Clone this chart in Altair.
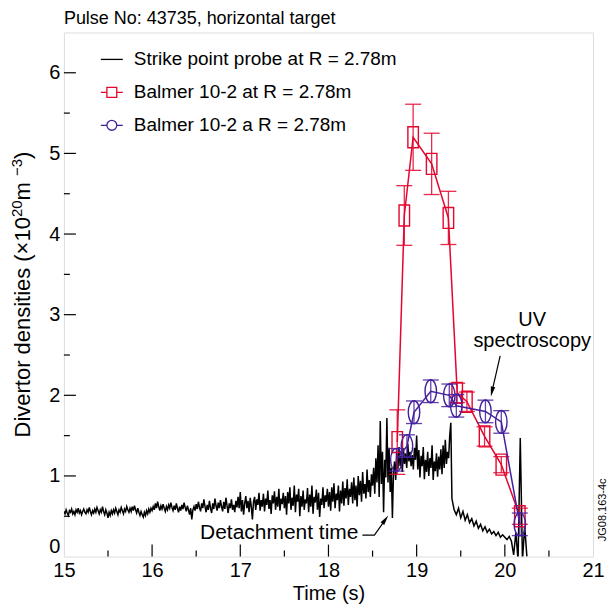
import altair as alt
import pandas as pd

FONT = "Liberation Sans"
RED = "#e3062e"
PURPLE = "#44209c"

# ---------------- data ----------------
# Strike point probe trace: fine part sampled every 0.0125 s from 15.0 s
probe_fine_start = 15.0
probe_fine_step = 0.0125
probe_fine_values = [
    # 15.00 - 15.2375
    0.56, 0.53, 0.58, 0.54, 0.51, 0.57, 0.55, 0.59, 0.53, 0.56, 0.52, 0.58, 0.55, 0.60, 0.54, 0.57, 0.52, 0.56, 0.59, 0.55,
    # 15.25 - 15.4875
    0.53, 0.58, 0.55, 0.61, 0.56, 0.52, 0.57, 0.54, 0.59, 0.55, 0.61, 0.57, 0.53, 0.58, 0.55, 0.62, 0.56, 0.52, 0.58, 0.54,
    # 15.50 - 15.7375
    0.48, 0.55, 0.51, 0.57, 0.53, 0.58, 0.54, 0.60, 0.56, 0.52, 0.58, 0.55, 0.61, 0.57, 0.53, 0.59, 0.56, 0.62, 0.58, 0.55,
    # 15.75 - 15.9875
    0.60, 0.56, 0.62, 0.57, 0.63, 0.58, 0.54, 0.60, 0.55, 0.51, 0.56, 0.52, 0.49, 0.55, 0.51, 0.57, 0.53, 0.59, 0.55, 0.60,
    # 16.00 - 16.2375
    0.57, 0.62, 0.58, 0.66, 0.60, 0.68, 0.62, 0.57, 0.63, 0.59, 0.65, 0.60, 0.56, 0.62, 0.58, 0.64, 0.60, 0.67, 0.61, 0.57,
    # 16.25 - 16.4875
    0.63, 0.58, 0.66, 0.60, 0.55, 0.62, 0.57, 0.64, 0.59, 0.67, 0.61, 0.56, 0.63, 0.58, 0.52, 0.60, 0.46, 0.58, 0.62, 0.57,
    # 16.50 - 16.7375
    0.65, 0.59, 0.68, 0.61, 0.56, 0.66, 0.60, 0.71, 0.62, 0.55, 0.64, 0.58, 0.69, 0.60, 0.54, 0.66, 0.59, 0.72, 0.63, 0.57,
    # 16.75 - 16.9875
    0.67, 0.60, 0.70, 0.62, 0.56, 0.68, 0.59, 0.73, 0.63, 0.54, 0.66, 0.60, 0.71, 0.58, 0.64, 0.55, 0.69, 0.61, 0.74, 0.60,
    # 17.00 - 17.2375
    0.80, 0.56, 0.70, 0.52, 0.66, 0.75, 0.60, 0.69, 0.55, 0.73, 0.62, 0.46, 0.68, 0.74, 0.58, 0.71, 0.64, 0.79, 0.57, 0.70,
    # 17.25 - 17.4875
    0.62, 0.78, 0.56, 0.72, 0.64, 0.82, 0.59, 0.70, 0.53, 0.76, 0.66, 0.81, 0.58, 0.74, 0.62, 0.84, 0.57, 0.72, 0.65, 0.79,
    # 17.50 - 17.7375
    0.60, 0.75, 0.52, 0.80, 0.66, 0.86, 0.58, 0.73, 0.63, 0.88, 0.55, 0.77, 0.68, 0.84, 0.50, 0.75, 0.62, 0.82, 0.58, 0.71,
    # 17.75 - 17.9875
    0.66, 0.85, 0.55, 0.77, 0.62, 0.88, 0.53, 0.74, 0.67, 0.83, 0.58, 0.79, 0.49, 0.72, 0.64, 0.86, 0.60, 0.76, 0.68, 0.84,
    # 18.00 - 18.2375
    0.62, 0.80, 0.57, 0.86, 0.68, 0.91, 0.60, 0.78, 0.70, 0.88, 0.56, 0.82, 0.66, 0.93, 0.63, 0.85, 0.72, 0.96, 0.64, 0.84,
    # 18.25 - 18.4875
    0.74, 0.92, 0.66, 0.98, 0.70, 0.88, 0.62, 1.00, 0.76, 0.94, 0.68, 1.05, 0.78, 0.90, 0.72, 1.08, 0.80, 0.95, 0.74, 1.02,
    # 18.50 - 18.7375
    0.88, 1.10, 0.78, 1.22, 0.92, 1.38, 0.74, 1.68, 0.90, 1.30, 0.55, 1.20, 0.98, 1.72, 0.92, 1.35, 0.80, 1.10, 0.48, 1.05,
    # 18.75 - 18.9875
    1.18, 0.95, 1.30, 1.08, 1.36, 1.12, 1.25, 1.05, 1.34, 1.15, 1.28, 1.10, 1.40, 1.18, 1.30, 1.12, 1.26, 1.08, 1.35, 1.20,
    # 19.00 - 19.2375
    1.50, 1.08, 1.32, 0.98, 1.25, 1.12, 1.36, 0.96, 1.20, 1.05, 1.30, 1.00, 1.22, 1.10, 1.38, 0.95, 1.18, 1.06, 1.28, 0.99,
    # 19.25 - 19.3875
    1.24, 1.08, 1.33, 1.02, 1.38, 1.10, 1.45, 1.15, 1.30, 1.22, 1.50, 1.66,
]
# coarse part sampled every 0.025 s from 19.4 s
probe_coarse_start = 19.4
probe_coarse_step = 0.025
probe_coarse_values = [
    # 19.400 - 19.975
    0.72, 0.58, 0.52, 0.60, 0.48, 0.56, 0.45, 0.52, 0.42, 0.47, 0.38, 0.44,
    0.35, 0.40, 0.32, 0.37, 0.30, 0.34, 0.28, 0.31, 0.26, 0.30, 0.24, 0.27,
    # 20.000 - 20.250
    0.24, 0.21, 0.25, 0.19, 0.02, 0.30, -0.05, 1.47, -0.05, 0.38, 0.00,
]
probe_t = ([round(probe_fine_start + i * probe_fine_step, 5) for i in range(len(probe_fine_values))]
           + [round(probe_coarse_start + i * probe_coarse_step, 5) for i in range(len(probe_coarse_values))])
probe_values = probe_fine_values + probe_coarse_values

# Balmer 10-2 (red squares)
red_t = [18.78, 18.86, 18.96, 19.17, 19.36, 19.46, 19.57, 19.77, 19.96, 20.17]
red_v = [1.42, 4.23, 5.20, 4.87, 4.20, 2.03, 1.92, 1.49, 1.14, 0.50]
red_err = [0.40, 0.37, 0.41, 0.38, 0.33, 0.12, 0.12, 0.12, 0.10, 0.10]

# Balmer 10-2, UV spectroscopy (purple ellipses)
uv_t = [18.77, 18.89, 18.97, 19.16, 19.37, 19.45, 19.78, 19.96, 20.17]
uv_v = [1.20, 1.37, 1.79, 2.05, 2.00, 1.87, 1.80, 1.67, 0.40]
uv_err = [0.14, 0.14, 0.14, 0.14, 0.14, 0.14, 0.14, 0.14, 0.14]

legend_names = [
    "Strike point probe at R = 2.78m",
    "Balmer 10-2 at R = 2.78m",
    "Balmer 10-2 a R = 2.78m",
]

x_major = [15, 16, 17, 18, 19, 20, 21]
x_minor = [15.5, 16.5, 17.5, 18.5, 19.5, 20.5]
y_major = [0, 1, 2, 3, 4, 5, 6]
y_minor = [0.5, 1.5, 2.5, 3.5, 4.5, 5.5]

# y-axis title pieces (main text, superscripts)
ytitle_parts = ["Divertor densities (\u00d710", "20", " m", "\u22123", ")"]
ytitle_sizes = [22, 15, 22, 15, 22]
ytitle_raise = [0, 6, 0, 6, 0]

# ---------------- chart ----------------
W, H = 530, 525

x_scale = alt.Scale(domain=[15, 21], nice=False, zero=False)
y_scale = alt.Scale(domain=[0, 6.5], nice=False, zero=False)

x_axis = alt.Axis(
    values=x_major, ticks=False, domain=False, grid=False, format="d",
    labelFont=FONT, labelFontSize=20, labelColor="black", labelPadding=4,
    labelFlush=False, labelOverlap=False,
    title="Time (s)", titleFont=FONT, titleFontSize=20, titleFontWeight="normal",
    titleColor="black", titleY=43, titleBaseline="alphabetic",
)
y_axis = alt.Axis(
    values=y_major, ticks=False, domain=False, grid=False, format="d",
    labelFont=FONT, labelFontSize=20, labelColor="black", labelPadding=4,
    labelFlush=True, labelOverlap=False, title=None,
)

X = alt.X("t:Q", scale=x_scale, axis=x_axis)
Y = alt.Y("v:Q", scale=y_scale, axis=y_axis)

probe_df = pd.DataFrame({"t": probe_t, "v": probe_values})
red_df = pd.DataFrame({"t": red_t, "v": red_v,
                       "lo": [a - b for a, b in zip(red_v, red_err)],
                       "hi": [a + b for a, b in zip(red_v, red_err)]})
uv_df = pd.DataFrame({"t": uv_t, "v": uv_v,
                      "lo": [a - b for a, b in zip(uv_v, uv_err)],
                      "hi": [a + b for a, b in zip(uv_v, uv_err)]})

RECT_PATH = "M-0.5,-1L0.5,-1L0.5,1L-0.5,1Z"
ELLIPSE_PATH = "M0,-1A0.5,1,0,1,1,0,1A0.5,1,0,1,1,0,-1Z"

probe = alt.Chart(probe_df).mark_line(color="black", strokeWidth=1.5, clip=True).encode(x=X, y=Y)


def series_layers(df, color, shape, size):
    line = alt.Chart(df).mark_line(color=color, strokeWidth=1.5).encode(x=X, y=Y)
    bars = alt.Chart(df).mark_rule(color=color, strokeWidth=1.3, opacity=0.85).encode(
        x=X, y=alt.Y("lo:Q", scale=y_scale, axis=y_axis), y2=alt.Y2("hi:Q"))
    cap_lo = alt.Chart(df).mark_tick(color=color, orient="horizontal", size=16,
                                     thickness=1.3, opacity=0.85).encode(
        x=X, y=alt.Y("lo:Q", scale=y_scale, axis=y_axis))
    cap_hi = alt.Chart(df).mark_tick(color=color, orient="horizontal", size=16,
                                     thickness=1.3, opacity=0.85).encode(
        x=X, y=alt.Y("hi:Q", scale=y_scale, axis=y_axis))
    pts = alt.Chart(df).mark_point(shape=shape, size=size, filled=False, color=color,
                                   strokeWidth=1.4, opacity=1).encode(x=X, y=Y)
    return [line, bars, cap_lo, cap_hi, pts]


red_layers = series_layers(red_df, RED, RECT_PATH, 441)
uv_layers = series_layers(uv_df, PURPLE, ELLIPSE_PATH, 529)

# inward ticks
xmaj_df = pd.DataFrame({"t": x_major[1:-1]})
xmin_df = pd.DataFrame({"t": x_minor})
ymaj_df = pd.DataFrame({"v": y_major[1:]})
ymin_df = pd.DataFrame({"v": y_minor})
tick_x_major = alt.Chart(xmaj_df).mark_rule(color="black", strokeWidth=1.2).encode(
    x=X, y=alt.value(H), y2=alt.value(H - 12))
tick_x_minor = alt.Chart(xmin_df).mark_rule(color="black", strokeWidth=1.2).encode(
    x=X, y=alt.value(H), y2=alt.value(H - 6))
tick_y_major = alt.Chart(ymaj_df).mark_rule(color="black", strokeWidth=1.2).encode(
    y=Y, x=alt.value(0), x2=alt.value(12))
tick_y_minor = alt.Chart(ymin_df).mark_rule(color="black", strokeWidth=1.2).encode(
    y=Y, x=alt.value(0), x2=alt.value(6))


# y-axis title, composed of pieces so that the exponents are real superscripts
def text_width(s, size):
    w = {"D": 722, "i": 222, "v": 500, "e": 556, "r": 333, "t": 278, "o": 556, " ": 278,
         "d": 556, "n": 556, "s": 500, "(": 333, ")": 333, "\u00d7": 584, "1": 556,
         "0": 556, "2": 556, "3": 556, "m": 833, "\u2212": 584}
    return sum(w.get(c, 556) for c in s) * size / 1000.0


widths = [text_width(s, f) for s, f in zip(ytitle_parts, ytitle_sizes)]
pos = H / 2 + sum(widths) / 2
ytitle_layers = []
for s, f, r, wdt in zip(ytitle_parts, ytitle_sizes, ytitle_raise, widths):
    ytitle_layers.append(
        alt.Chart(pd.DataFrame({"label": [s]})).mark_text(
            font=FONT, fontSize=f, color="black", angle=270, align="left",
            baseline="middle").encode(x=alt.value(-41 - r), y=alt.value(pos), text="label:N"))
    pos -= wdt

# legend (drawn by Vega-Lite from a shape/color scale)
P_LINE = "M-1,0L1,0"
P_SQ = "M-1,0L-0.45,0M-0.45,-0.45L0.45,-0.45L0.45,0.45L-0.45,0.45ZM0.45,0L1,0"
P_CIRC = "M-1,0L-0.45,0M-0.45,0A0.45,0.45,0,1,1,0.45,0A0.45,0.45,0,1,1,-0.45,0ZM0.45,0L1,0"
leg = alt.Legend(
    title=None, orient="none", legendX=36, legendY=15, padding=0,
    labelFont=FONT, labelFontSize=19, labelColor="black", labelOffset=10,
    symbolSize=484, symbolStrokeWidth=1.3, rowPadding=11, labelLimit=400,
)
legend_df = pd.DataFrame({"series": legend_names, "t": [15.0] * 3, "v": [0.0] * 3})
legend_layer = alt.Chart(legend_df).transform_filter("false").mark_point(
    filled=False, strokeWidth=1.3, opacity=1).encode(
    x=X, y=Y,
    shape=alt.Shape("series:N", scale=alt.Scale(domain=legend_names, range=[P_LINE, P_SQ, P_CIRC]),
                    legend=leg, sort=legend_names),
    color=alt.Color("series:N", scale=alt.Scale(domain=legend_names, range=["black", RED, PURPLE]),
                    legend=leg, sort=legend_names),
)

# annotations
uv_text_df = pd.DataFrame({"t": [20.31, 20.31], "v": [2.93, 2.67], "label": ["UV", "spectroscopy"]})
det_text_df = pd.DataFrame({"t": [18.34], "v": [0.297], "label": ["Detachment time"]})
ann_center = alt.Chart(uv_text_df).mark_text(
    font=FONT, fontSize=20, color="black", align="center", baseline="middle").encode(
    x=X, y=Y, text="label:N")
ann_right = alt.Chart(det_text_df).mark_text(
    font=FONT, fontSize=21, color="black", align="right", baseline="middle").encode(
    x=X, y=Y, text="label:N")

uv_arrow_df = pd.DataFrame({"t": [19.947, 19.854], "v": [2.489, 2.045], "o": [0, 1]})
det_arrow_df = pd.DataFrame({"t": [18.385, 18.521, 18.645], "v": [0.266, 0.266, 0.458], "o": [0, 1, 2]})
uv_arrow = alt.Chart(uv_arrow_df).mark_line(color="black", strokeWidth=1.2).encode(x=X, y=Y, order="o:Q")
det_arrow = alt.Chart(det_arrow_df).mark_line(color="black", strokeWidth=1.2).encode(x=X, y=Y, order="o:Q")
HEAD = "M0,-1L0.45,1L-0.45,1Z"
uv_head = alt.Chart(pd.DataFrame({"t": [19.854], "v": [2.045]})).mark_point(
    shape=HEAD, size=100, filled=True, color="black", opacity=1, angle=192).encode(x=X, y=Y)
det_head = alt.Chart(pd.DataFrame({"t": [18.645], "v": [0.458]})).mark_point(
    shape=HEAD, size=100, filled=True, color="black", opacity=1, angle=36).encode(x=X, y=Y)

code_label = alt.Chart(pd.DataFrame({"t": [21.11], "v": [0.58], "label": ["JG08.163-4c"]})).mark_text(
    font=FONT, fontSize=11, color="black", angle=270, align="center", baseline="middle").encode(
    x=X, y=Y, text="label:N")

chart = alt.layer(
    probe, *red_layers, *uv_layers,
    tick_x_major, tick_x_minor, tick_y_major, tick_y_minor,
    uv_arrow, det_arrow, uv_head, det_head, ann_center, ann_right, code_label,
    *ytitle_layers,
    legend_layer,
).properties(
    width=W, height=H,
    title=alt.TitleParams("Pulse No: 43735, horizontal target", anchor="start", frame="group",
                          font=FONT, fontSize=18, fontWeight="normal", color="black", offset=4),
    autosize=alt.AutoSizeParams(type="none"),
    padding={"left": 56, "top": 24, "right": 14, "bottom": 47},
).configure_view(stroke="black", strokeWidth=1.4).configure(background="white")

chart.save("out.html", embed_options={"renderer": "svg", "actions": False})
